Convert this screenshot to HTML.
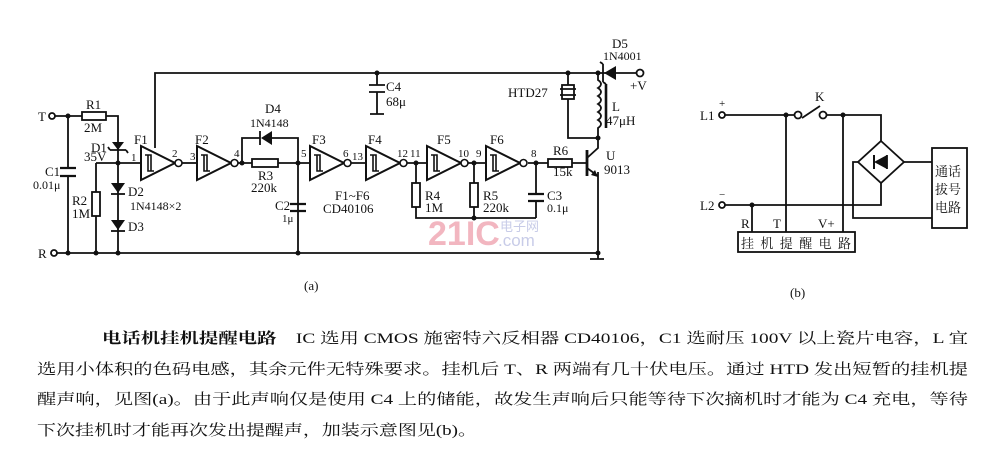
<!DOCTYPE html>
<html><head><meta charset="utf-8"><style>
html,body{margin:0;padding:0;background:#fff;width:984px;height:458px;overflow:hidden}
svg{display:block}
text{font-family:"Liberation Serif","Noto Serif CJK SC",serif;fill:#111}
.c{font-family:"Liberation Serif","Noto Serif CJK SC","Noto Sans CJK SC",serif}
</style></head><body>
<svg width="984" height="458" viewBox="0 0 984 458" xmlns="http://www.w3.org/2000/svg">
<defs>
<g id="inv">
 <polygon points="0,-17 0,17 34,0" fill="#fff" stroke="#111" stroke-width="2"/>
 <path d="M4,-8 H10 V8 M7,-8 V8 H13" fill="none" stroke="#111" stroke-width="1.6"/>
 <circle cx="37.5" cy="0" r="3.5" fill="#fff" stroke="#111" stroke-width="1.6"/>
</g>
</defs>
<text x="428" y="245" font-size="34" font-weight="bold" style="fill:#f2b6c0;font-family:'Liberation Sans',sans-serif">21IC</text>
<text x="500" y="231" font-size="13" style="fill:#c8cce8;font-family:'Noto Sans CJK SC',sans-serif">电子网</text>
<text x="498" y="246" font-size="17" style="fill:#c8cce8;font-family:'Liberation Sans',sans-serif">.com</text>
<g stroke="#111" stroke-width="1.8" fill="none">
 <path d="M155,148 V73 H598"/>
 <path d="M598,73 H640"/>
 <path d="M56,253 H598 V172"/>
 <path d="M590,259 H604 M598,253 V259"/>
 <path d="M54,116 H82 M106,116 H118 V163"/>
 <rect x="82" y="112" width="24" height="8" fill="#fff"/>
 <path d="M68,116 V168 M68,176 V253"/>
 <path d="M60,168 H76 M60,176 H76" stroke-width="2.2"/>
 <path d="M110,150 H126 M110,150 l-2,-3 M126,150 l2,3"/>
 <polygon points="112,142 124,142 118,150" fill="#111" stroke="none"/>
 <path d="M96,163 H141"/>
 <path d="M96,163 V192 M96,216 V253"/>
 <rect x="92" y="192" width="8" height="24" fill="#fff"/>
 <path d="M118,163 V253"/>
 <polygon points="111,183 125,183 118,193" fill="#111" stroke="none"/>
 <path d="M111,194 H125"/>
 <polygon points="111,220 125,220 118,230" fill="#111" stroke="none"/>
 <path d="M111,231 H125"/>
 <path d="M182,163 H197"/>
 <path d="M238,163 H252 M278,163 H310"/>
 <rect x="252" y="159" width="26" height="8" fill="#fff"/>
 <path d="M242,163 V138 H260 M272,138 H298 V253"/>
 <polygon points="272,131 272,145 261,138" fill="#111" stroke="none"/>
 <path d="M260,131 V145"/>
 <path d="M290,204 H306 M290,211 H306" stroke-width="2.2"/>
 <path d="M348,163 H366 M407,163 H427 M468,163 H486 M528,163 H548 M572,163 H587"/>
 <rect x="548" y="159" width="24" height="8" fill="#fff"/>
 <path d="M416,163 V183 M416,207 V218 H536 M474,163 V183 M474,207 V218 M536,163 V194 M536,201 V218"/>
 <rect x="412" y="183" width="8" height="24" fill="#fff"/>
 <rect x="470" y="183" width="8" height="24" fill="#fff"/>
 <path d="M528,194 H544 M528,201 H544" stroke-width="2.2"/>
 <path d="M377,73 V85 M369,85 H385 M369,92 H385 M377,92 V114 M370,114 H384"/>
 <path d="M587,150 V176" stroke-width="2.8"/>
 <path d="M587,158 L598,148 V138 M587,168 L598,176"/>
 <polygon points="598,177 591,175 595,170" fill="#111" stroke="none"/>
 <path d="M568,73 V85 M568,99 V138 H598"/>
 <rect x="562" y="85" width="12" height="14" fill="#fff"/>
 <path d="M560,89 H576 M560,95 H576"/>
 <path d="M598,73 V80 q6,4 0,8 q6,4 0,8 q6,4 0,8 q6,4 0,8 q6,4 0,8 q6,4 0,8 V138"/>
 <path d="M606,84 V128" stroke-width="2.6"/>
 <polygon points="604,73 616,66 616,80" fill="#111" stroke="none"/>
 <path d="M603,64 V82 M603,64 l-3,-2 M603,82 l3,2"/>
 <circle cx="640" cy="73" r="3.5" fill="#fff"/>
 <g fill="#111" stroke="none">
  <circle cx="68" cy="116" r="2.5"/><circle cx="118" cy="163" r="2.5"/><circle cx="68" cy="253" r="2.5"/>
  <circle cx="96" cy="253" r="2.5"/><circle cx="118" cy="253" r="2.5"/><circle cx="242" cy="163" r="2.5"/>
  <circle cx="298" cy="163" r="2.5"/><circle cx="298" cy="253" r="2.5"/><circle cx="377" cy="73" r="2.5"/>
  <circle cx="416" cy="163" r="2.5"/><circle cx="474" cy="163" r="2.5"/><circle cx="536" cy="163" r="2.5"/>
  <circle cx="474" cy="218" r="2.5"/><circle cx="568" cy="73" r="2.5"/><circle cx="598" cy="73" r="2.5"/>
  <circle cx="598" cy="138" r="2.5"/><circle cx="598" cy="253" r="2.5"/>
 </g>
 <circle cx="52" cy="116" r="3" fill="#fff"/>
 <circle cx="54" cy="253" r="3" fill="#fff"/>
</g>
<use href="#inv" x="141" y="163"/>
<use href="#inv" x="197" y="163"/>
<use href="#inv" x="310" y="163"/>
<use href="#inv" x="366" y="163"/>
<use href="#inv" x="427" y="163"/>
<use href="#inv" x="486" y="163"/>

<g font-size="13">
 <text x="38" y="121">T</text><text x="38" y="258">R</text>
 <text x="86" y="109">R1</text><text x="84" y="132">2M</text>
 <text x="91" y="152">D1</text><text x="84" y="161">35V</text>
 <text x="134" y="144">F1</text><text x="172" y="157" font-size="11">2</text>
 <text x="131" y="161" font-size="11">1</text><text x="190" y="160" font-size="11">3</text>
 <text x="195" y="144">F2</text><text x="234" y="157" font-size="11">4</text>
 <text x="45" y="176">C1</text><text x="33" y="189" font-size="12">0.01μ</text>
 <text x="128" y="196">D2</text><text x="130" y="210" font-size="12">1N4148×2</text>
 <text x="128" y="231">D3</text>
 <text x="72" y="205">R2</text><text x="72" y="218">1M</text>
 <text x="265" y="113">D4</text>
 <text x="250" y="127" font-size="12">1N4148</text>
 <text x="258" y="180">R3</text><text x="251" y="192">220k</text>
 <text x="301" y="157" font-size="11">5</text>
 <text x="275" y="210">C2</text><text x="282" y="222" font-size="11">1μ</text>
 <text x="312" y="144">F3</text><text x="343" y="157" font-size="11">6</text>
 <text x="352" y="160" font-size="11">13</text>
 <text x="368" y="144">F4</text><text x="397" y="157" font-size="11">12</text><text x="410" y="157" font-size="11">11</text>
 <text x="335" y="200">F1~F6</text><text x="323" y="213">CD40106</text>
 <text x="386" y="91">C4</text><text x="386" y="106">68μ</text>
 <text x="437" y="144">F5</text><text x="458" y="157" font-size="11">10</text><text x="476" y="157" font-size="11">9</text>
 <text x="490" y="144">F6</text><text x="531" y="157" font-size="11">8</text>
 <text x="425" y="200">R4</text><text x="425" y="212">1M</text>
 <text x="483" y="200">R5</text><text x="483" y="212">220k</text>
 <text x="547" y="200">C3</text><text x="547" y="212" font-size="12">0.1μ</text>
 <text x="553" y="155">R6</text><text x="553" y="176">15k</text>
 <text x="606" y="160">U</text><text x="604" y="174">9013</text>
 <text x="508" y="97">HTD27</text>
 <text x="612" y="111">L</text><text x="606" y="125">47μH</text>
 <text x="612" y="48">D5</text><text x="603" y="60" font-size="12">1N4001</text>
 <text x="630" y="90">+V</text>
 <text x="304" y="290">(a)</text>
 <text x="790" y="297">(b)</text>
</g>

<g stroke="#111" stroke-width="1.8" fill="none">
 <path d="M725,115 H794 M802,118 L820,106 M827,115 H881 V142"/>
 <circle cx="798" cy="115" r="3.5" fill="#fff"/><circle cx="823" cy="115" r="3.5" fill="#fff"/>
 <polygon points="881,141 904,162 881,183 858,162" fill="#fff"/>
 <path d="M874,155 V169" stroke-width="2"/>
 <polygon points="874,162 887,155 887,169" fill="#111" stroke="none"/>
 <path d="M887,155 V169"/>
 <path d="M904,162 H932 M858,162 H853 V218 H932 M881,183 V205 H725"/>
 <rect x="932" y="148" width="35" height="80"/>
 <rect x="738" y="232" width="117" height="20"/>
 <path d="M752,205 V232 M786,115 V232 M843,115 V232"/>
 <circle cx="722" cy="115" r="3" fill="#fff"/>
 <circle cx="722" cy="205" r="3" fill="#fff"/>
 <g fill="#111" stroke="none"><circle cx="786" cy="115" r="2.5"/><circle cx="843" cy="115" r="2.5"/><circle cx="752" cy="205" r="2.5"/></g>
</g>
<g font-size="13">
 <text x="700" y="120">L1</text><text x="719" y="107" font-size="11">+</text>
 <text x="700" y="210">L2</text><text x="719" y="198" font-size="11">−</text>
 <text x="815" y="101">K</text>
 <text x="741" y="228">R</text><text x="773" y="228">T</text><text x="818" y="228">V+</text>
 <text x="741" y="248" class="c" font-size="13" textLength="110">挂机提醒电路</text>
 <text x="935" y="176" class="c" font-size="13">通话</text>
 <text x="935" y="194" class="c" font-size="13">拔号</text>
 <text x="935" y="212" class="c" font-size="13">电路</text>
</g>

<g class="c" font-size="15">
 <text x="102" y="343" textLength="866" lengthAdjust="spacingAndGlyphs"><tspan font-weight="bold">电话机挂机提醒电路</tspan>　IC 选用 CMOS 施密特六反相器 CD40106，C1 选耐压 100V 以上瓷片电容，L 宜</text>
 <text x="37" y="374" textLength="931" lengthAdjust="spacingAndGlyphs">选用小体积的色码电感，其余元件无特殊要求。挂机后 T、R 两端有几十伏电压。通过 HTD 发出短暂的挂机提</text>
 <text x="37" y="404" textLength="931" lengthAdjust="spacingAndGlyphs">醒声响，见图(a)。由于此声响仅是使用 C4 上的储能，故发生声响后只能等待下次摘机时才能为 C4 充电，等待</text>
 <text x="37" y="435" textLength="440" lengthAdjust="spacingAndGlyphs">下次挂机时才能再次发出提醒声，加装示意图见(b)。</text>
</g>
</svg>
</body></html>
